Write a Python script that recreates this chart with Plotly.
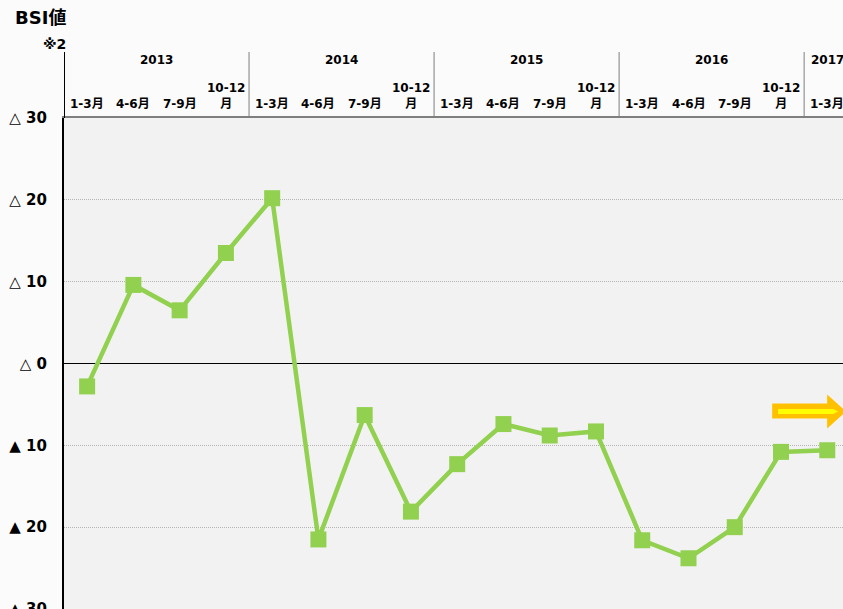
import plotly.graph_objects as go

# ---- data ----
years = ["2013", "2014", "2015", "2016", "2017"]
year_centers = [1.5, 5.5, 9.5, 13.5, 16]
quarters = ["1-3月", "4-6月", "7-9月", "10-12<br>月"] * 4 + ["1-3月"]
bsi = [-2.8, 9.6, 6.5, 13.5, 20.2, -21.5, -6.3, -18.1, -12.3, -7.4, -8.8, -8.3,
       -21.6, -23.8, -20.0, -10.8, -10.6]
ytick_vals = [30, 20, 10, 0, -10, -20, -30]
ytick_text = ["△ 30", "△ 20", "△ 10", "△ 0", "▲ 10", "▲ 20", "▲ 30"]

FONT = "DejaVu Sans, Noto Sans CJK JP"
idx = list(range(len(bsi)))

W, H = 843, 609
ML = 64
PLOT_TOP = 118
PLOT_H = H - PLOT_TOP
PLOT_W = W - ML


def py(pix):  # pixel y (from top) -> paper y
    return 1 + (PLOT_TOP - pix) / PLOT_H


def pxp(pix):  # pixel x -> paper x
    return (pix - ML) / PLOT_W


fig = go.Figure()
fig.add_trace(go.Scatter(
    x=idx, y=bsi, mode="lines+markers",
    line=dict(color="#92D050", width=4.5),
    marker=dict(symbol="square", size=16, color="#92D050"),
    hoverinfo="skip", showlegend=False, cliponaxis=False,
))

annotations = []
for i, q in enumerate(quarters):
    annotations.append(dict(x=i, y=py(113), xref="x", yref="paper", text=q,
                            showarrow=False, xanchor="center", yanchor="bottom",
                            font=dict(family=FONT, size=12, color="#000000", weight="bold"),
                            align="center"))
for c, yr in zip(year_centers, years):
    annotations.append(dict(x=c, y=py(60), xref="x", yref="paper", text=yr,
                            showarrow=False, xanchor="center", yanchor="middle",
                            font=dict(family=FONT, size=12, color="#000000", weight="bold")))
annotations.append(dict(x=pxp(13), y=py(18), xref="paper", yref="paper",
                        text="<b>BSI値</b>", showarrow=False, xanchor="left",
                        yanchor="middle", font=dict(family=FONT, size=18, color="#000")))
annotations.append(dict(x=pxp(68), y=py(44), xref="paper", yref="paper",
                        text="<b>※2</b>", showarrow=False, xanchor="right",
                        yanchor="middle", font=dict(family=FONT, size=14, color="#000")))

shapes = []
for xd, col, w in [(-0.5, "#000000", 2), (3.5, "#7f7f7f", 1), (7.5, "#7f7f7f", 1),
                   (11.5, "#7f7f7f", 1), (15.5, "#7f7f7f", 1)]:
    shapes.append(dict(type="line", xref="x", yref="paper", x0=xd, x1=xd,
                       y0=1, y1=py(52), line=dict(color=col, width=w)))


# decorative arrow
def ppx(px):
    return (px - ML) / 46.25 - 0.5


def ppy(pyv):
    return (364 - pyv) / (PLOT_H / 60)


outer = [(772, 404), (827, 404), (827, 395), (846, 412), (827, 429), (827, 419), (772, 419)]
inner = [(778, 409.5), (833, 409.5), (838, 412), (833, 414.5), (778, 414.5)]


def path(pts):
    return "M " + " L ".join(f"{ppx(a):.4f},{ppy(b):.4f}" for a, b in pts) + " Z"


shapes.append(dict(type="path", xref="x", yref="y", path=path(outer),
                   fillcolor="#FFC000", line=dict(width=0), layer="above"))
shapes.append(dict(type="path", xref="x", yref="y", path=path(inner),
                   fillcolor="#FFFF00", line=dict(width=0), layer="above"))

fig.update_layout(
    width=W, height=H,
    margin=dict(l=ML, r=0, t=PLOT_TOP, b=0, pad=0, autoexpand=False),
    paper_bgcolor="#fbfbfb", plot_bgcolor="#f2f2f2",
    font=dict(family=FONT, color="#000"),
    annotations=annotations, shapes=shapes,
    xaxis=dict(range=[-0.5, 16.34], showticklabels=False, showgrid=False,
               zeroline=False, ticks="", showline=True, linecolor="#7f7f7f",
               linewidth=2, mirror=True, fixedrange=True, automargin=False),
    yaxis=dict(range=[-30, 30], tickvals=ytick_vals, ticktext=ytick_text,
               tickfont=dict(family=FONT, size=15, color="#000", weight="bold"),
               ticklabeloverflow="allow", automargin=False,
               showgrid=True, gridcolor="#b5b5b5", griddash="1px,1px", gridwidth=1,
               zeroline=True, zerolinecolor="#000000", zerolinewidth=1,
               showline=True, linecolor="#000000", linewidth=2,
               ticks="", ticklabelstandoff=12, fixedrange=True),
)

fig.write_html("out.html", config={"displayModeBar": False},
               post_script="document.body.style.margin='0';")
